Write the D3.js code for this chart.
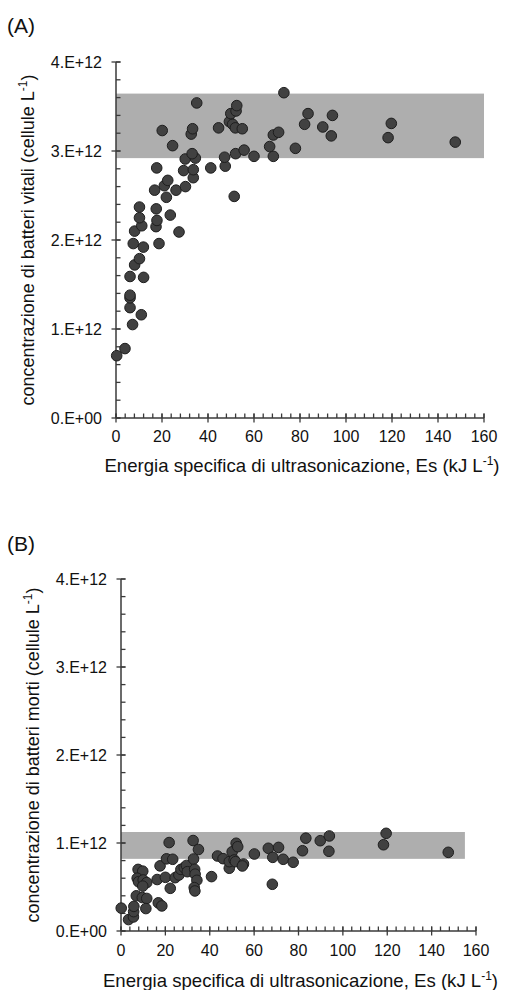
<!DOCTYPE html>
<html><head><meta charset="utf-8">
<script src="https://cdn.jsdelivr.net/npm/d3@7"></script>
<style>body{margin:0;background:#fff}svg{display:block}text{font-family:"Liberation Sans",Arial,sans-serif;fill:#111}</style>
</head><body>
<svg id="c" width="505" height="990"></svg>
<script>
// ---- data ----
const xTicks = [0,20,40,60,80,100,120,140,160];
const yTicks = [0,1e12,2e12,3e12,4e12];
const yTickLabels = ["0.E+00","1.E+12","2.E+12","3.E+12","4.E+12"];
const xTitle = "Energia specifica di ultrasonicazione, Es (kJ L";
const yTitleA = "concentrazione di batteri vitali (cellule L";
const yTitleB = "concentrazione di batteri morti (cellule L";
const panelLabels = ["(A)","(B)"];
// panel A: viable bacteria (Es kJ/L, cells/L in 1e12)
const energyA = [0.3,3.9,7.2,11.0,6.1,6.1,6.1,6.1,12.0,8.1,10.2,11.9,7.5,18.7,8.1,27.4,11.2,17.4,10.2,17.8,23.6,10.2,17.5,21.9,16.8,26.1,21.0,30.2,22.5,33.6,29.4,33.6,17.7,41.2,47.5,51.4,30.1,34.5,33.1,24.6,47.2,52.0,55.7,60.0,68.4,66.8,78.0,20.1,32.7,33.3,44.6,49.3,50.7,51.9,54.9,49.9,52.2,52.5,35.1,73.0,68.4,70.7,82.0,83.5,89.9,94.1,93.6,119.7,118.3,147.5];
const viableA = [0.70,0.78,1.05,1.16,1.24,1.35,1.38,1.59,1.58,1.72,1.79,1.92,1.96,1.96,2.10,2.09,2.16,2.15,2.25,2.22,2.28,2.37,2.35,2.48,2.56,2.56,2.61,2.60,2.67,2.70,2.78,2.79,2.81,2.81,2.83,2.49,2.91,2.92,2.97,3.06,2.93,2.97,3.01,2.94,2.94,3.05,3.03,3.23,3.19,3.25,3.26,3.33,3.30,3.26,3.25,3.42,3.45,3.51,3.54,3.655,3.18,3.21,3.30,3.42,3.27,3.40,3.17,3.31,3.15,3.10];
// panel B: dead bacteria
const energyB = [0.1,3.4,5.6,5.7,5.8,6.9,7.7,9.8,7.3,7.9,10.0,11.6,9.8,9.6,11.6,11.2,16.8,18.4,16.3,17.6,20.0,20.5,21.7,22.2,23.3,24.4,26.1,27.0,28.5,29.5,29.9,32.5,34.9,32.7,33.2,33.4,34.2,33.0,33.3,40.8,43.5,46.0,48.8,48.8,50.1,51.0,51.9,52.6,51.6,55.2,54.7,60.1,66.4,68.4,68.2,71.0,73.1,77.6,81.8,83.3,89.8,93.9,93.7,119.5,118.3,147.5];
const deadB = [0.26,0.13,0.16,0.22,0.28,0.40,0.70,0.68,0.60,0.56,0.58,0.55,0.51,0.38,0.37,0.255,0.32,0.285,0.585,0.74,0.61,0.82,1.005,0.485,0.815,0.606,0.636,0.70,0.72,0.745,0.674,1.028,0.926,0.818,0.70,0.646,0.576,0.493,0.455,0.618,0.852,0.822,0.713,0.788,0.90,0.807,0.997,0.958,0.788,0.761,0.739,0.875,0.94,0.837,0.531,0.95,0.815,0.781,0.912,1.055,1.026,1.08,0.906,1.11,0.98,0.894];
// shaded bands [x end, y low, y high] (1e12 cells/L)
const bandA = [160, 2.92, 3.645];
const bandB = [155, 0.82, 1.125];

const svg = d3.select("#c");
const axisCol = "#3a3a3a";

function panel(cfg){
  const g = svg.append("g");
  const x = d3.scaleLinear().domain([0,160]).range(cfg.xr);
  const y = d3.scaleLinear().domain([0,4e12]).range(cfg.yr);
  g.append("rect").attr("x",x(0)).attr("width",x(cfg.band[0])-x(0))
    .attr("y",y(cfg.band[2]*1e12)).attr("height",y(cfg.band[1]*1e12)-y(cfg.band[2]*1e12))
    .attr("fill","#aeaeae");
  g.append("line").attr("x1",x(0)).attr("x2",x(160)).attr("y1",y(0)).attr("y2",y(0)).attr("stroke",axisCol).attr("stroke-width",1.5);
  g.append("line").attr("x1",x(0)).attr("x2",x(0)).attr("y1",y(0)).attr("y2",y(4e12)).attr("stroke",axisCol).attr("stroke-width",1.5);
  const xMinor = d3.range(0,161,4);
  g.selectAll(".xm").data(xMinor).join("line").attr("x1",d=>x(d)).attr("x2",d=>x(d))
    .attr("y1",y(0)).attr("y2",y(0)-4.5).attr("stroke",axisCol).attr("stroke-width",1.3);
  g.selectAll(".xM").data(xTicks).join("line").attr("x1",d=>x(d)).attr("x2",d=>x(d))
    .attr("y1",y(0)-4.5).attr("y2",y(0)+4.5).attr("stroke",axisCol).attr("stroke-width",1.3);
  g.selectAll(".xl").data(xTicks).join("text").attr("x",d=>x(d)).attr("y",y(0)+cfg.xlab)
    .attr("text-anchor","middle").attr("font-size",16).text(d=>d);
  const yMinor = d3.range(0,21).map(i=>i*0.2e12);
  g.selectAll(".ym").data(yMinor).join("line").attr("x1",x(0)).attr("x2",x(0)+4.5)
    .attr("y1",d=>y(d)).attr("y2",d=>y(d)).attr("stroke",axisCol).attr("stroke-width",1.3);
  g.selectAll(".yM").data(yTicks).join("line").attr("x1",x(0)-4.5).attr("x2",x(0)+4.5)
    .attr("y1",d=>y(d)).attr("y2",d=>y(d)).attr("stroke",axisCol).attr("stroke-width",1.3);
  g.selectAll(".yl").data(yTicks).join("text").attr("x",x(0)-14).attr("y",d=>y(d)+5.5)
    .attr("text-anchor","end").attr("font-size",16).text((d,i)=>yTickLabels[i]);
  g.selectAll("circle").data(cfg.xs.map((v,i)=>[v,cfg.ys[i]])).join("circle")
    .attr("cx",d=>x(d[0])).attr("cy",d=>y(d[1]*1e12)).attr("r",5.3)
    .attr("fill","#414141").attr("stroke","#1e1e1e").attr("stroke-width",1);
  const xt = g.append("text").attr("x",(x(0)+x(160))/2+2).attr("y",y(0)+cfg.xt)
    .attr("text-anchor","middle").attr("font-size",18.6);
  xt.append("tspan").text(xTitle);
  xt.append("tspan").attr("font-size",12).attr("dy",-7).text("-1");
  xt.append("tspan").attr("dy",7).text(")");
  const cy = (y(0)+y(4e12))/2;
  const yt = g.append("text").attr("transform",`translate(${x(0)-82},${cy}) rotate(-90)`)
    .attr("text-anchor","middle").attr("font-size",18);
  yt.append("tspan").text(cfg.yTitle);
  yt.append("tspan").attr("font-size",12).attr("dy",-7).text("-1");
  yt.append("tspan").attr("dy",7).text(")");
  svg.append("text").attr("x",7).attr("y",cfg.labY).attr("font-size",21).text(cfg.label);
}

panel({xr:[116,484], yr:[418,62], band:bandA, xs:energyA, ys:viableA, yTitle:yTitleA, label:panelLabels[0], labY:33, xlab:24, xt:54});
panel({xr:[121,476], yr:[931,579], band:bandB, xs:energyB, ys:deadB, yTitle:yTitleB, label:panelLabels[1], labY:551, xlab:25, xt:56});
</script>
</body></html>
